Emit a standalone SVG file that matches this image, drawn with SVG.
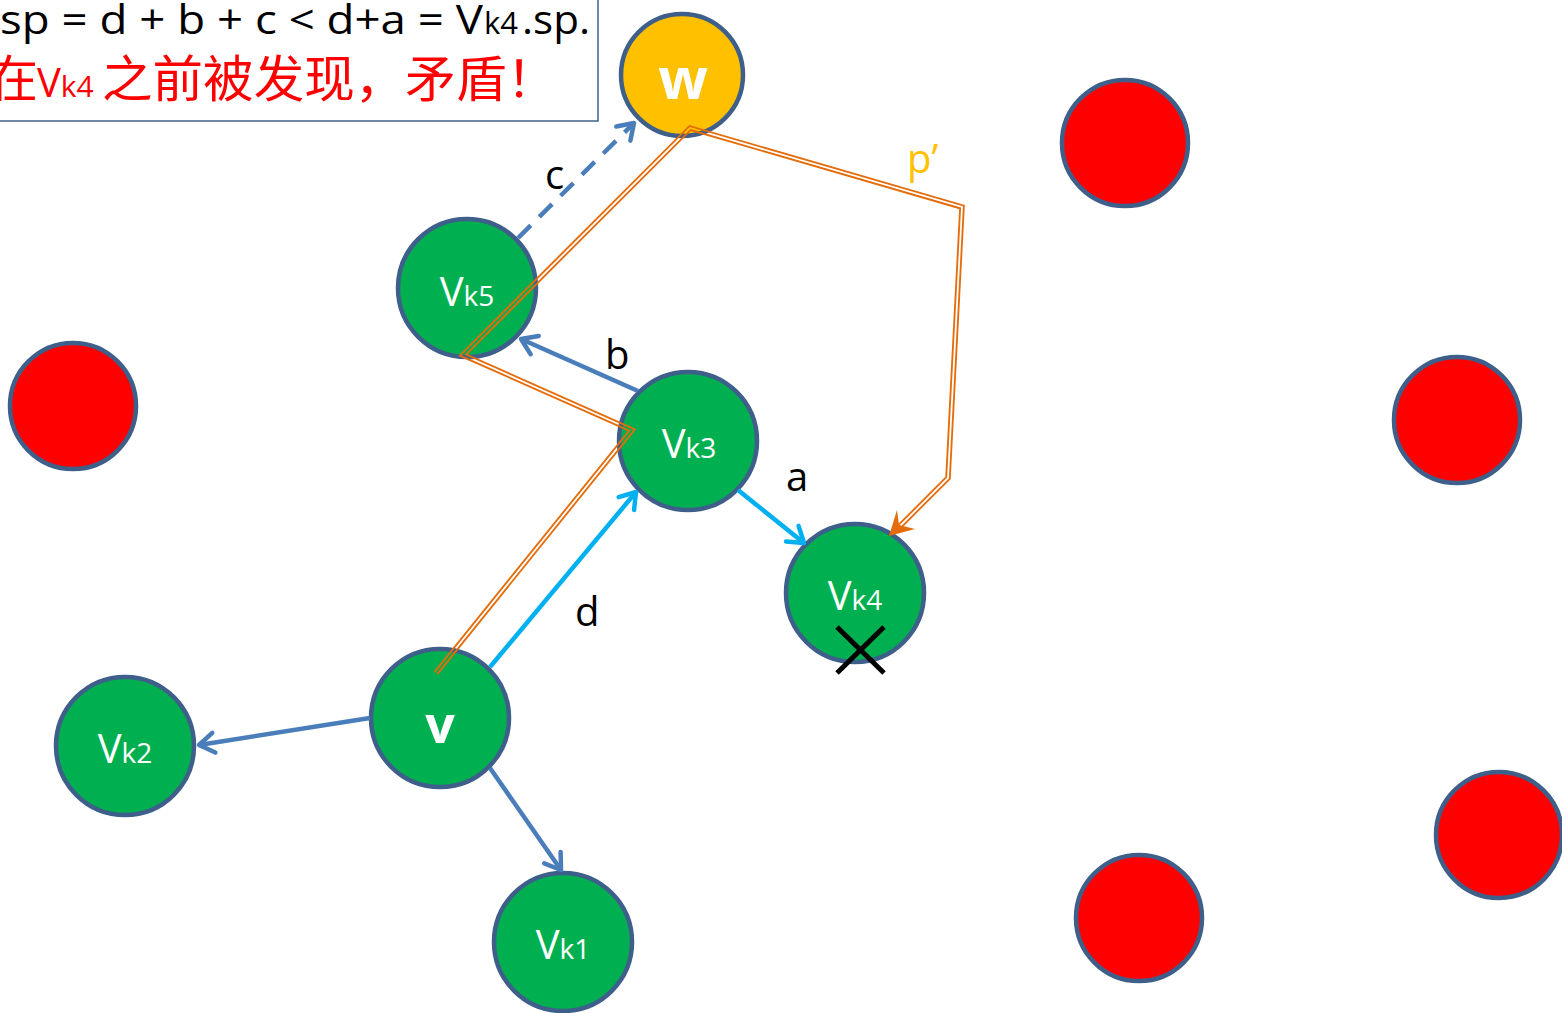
<svg xmlns="http://www.w3.org/2000/svg" width="1562" height="1013" viewBox="0 0 1562 1013">
<style>
.node{stroke:#3E5F8A;stroke-width:4.5}
.g{fill:#00B050}
.r{fill:#FF0000}
.y{fill:#FFC000}
.lbl{fill:#fff;font-family:"Open Sans","Liberation Sans",sans-serif;text-anchor:middle}
.big{font-size:40px}
.sub{font-size:28px}
.bold{font-weight:bold}
.blue{stroke:#4A7EBB;stroke-width:4.5;fill:none}
.cyan{stroke:#00B0F0;stroke-width:4.5;fill:none}
.el{font-family:"Open Sans","Liberation Sans",sans-serif;font-size:40px}
.cjk{font-family:"Noto Sans CJK SC",sans-serif;font-size:50px;fill:#FF0000}
</style>
<defs>
<marker id="ab" viewBox="0 0 20 20" refX="17" refY="10" markerWidth="20" markerHeight="20" markerUnits="userSpaceOnUse" orient="auto" overflow="visible">
<path d="M2,0 L17,10 L2,20" fill="none" stroke="#4A7EBB" stroke-width="4.5" stroke-linecap="round" stroke-linejoin="round"/>
</marker>
<marker id="ac" viewBox="0 0 20 20" refX="17" refY="10" markerWidth="20" markerHeight="20" markerUnits="userSpaceOnUse" orient="auto" overflow="visible">
<path d="M2,0 L17,10 L2,20" fill="none" stroke="#00B0F0" stroke-width="4.5" stroke-linecap="round" stroke-linejoin="round"/>
</marker>
<mask id="dbl" maskUnits="userSpaceOnUse" x="0" y="0" width="1562" height="1013">
<rect x="0" y="0" width="1562" height="1013" fill="#fff"/>
<path d="M436,673 L632,430 L463,355 L690,128 L962,207 L948,478 L900,526" fill="none" stroke="#000" stroke-width="1.8" stroke-linejoin="miter"/>
</mask>
</defs>

<g id="textbox">
<rect x="-3" y="-3" width="601" height="124" fill="#fff" stroke="#41608A" stroke-width="1.5"/>
<text class="el" y="34" fill="#000" font-size="43"><tspan x="0" textLength="483" lengthAdjust="spacingAndGlyphs">sp = d + b + c &lt; d+a = V</tspan><tspan x="484" font-size="31">k4</tspan><tspan x="522" textLength="68" lengthAdjust="spacingAndGlyphs">.sp.</tspan></text>
<text class="cjk" x="-12" y="97">在</text>
<text class="el" x="37" y="97" fill="#FF0000" font-size="42"><tspan>V</tspan><tspan font-size="30">k4</tspan></text>
<text class="cjk" x="102" y="97" textLength="455" lengthAdjust="spacingAndGlyphs">之前被发现，矛盾！</text>
</g>

<g id="red-nodes">
<circle id="r1" class="node r" cx="1125" cy="143" r="63"/>
<circle id="r2" class="node r" cx="73" cy="406" r="63"/>
<circle id="r3" class="node r" cx="1457" cy="420" r="63"/>
<circle id="r4" class="node r" cx="1499" cy="835" r="63"/>
<circle id="r5" class="node r" cx="1139" cy="918" r="63"/>
</g>

<g id="node-w"><circle class="node y" cx="682" cy="75" r="61"/><text class="lbl bold" x="683" y="99" font-size="58">w</text></g>
<g id="node-vk5"><circle class="node g" cx="467" cy="288" r="69"/><text class="lbl" x="467" y="306"><tspan class="big">V</tspan><tspan class="sub">k5</tspan></text></g>
<g id="node-vk3"><circle class="node g" cx="688" cy="441" r="69"/><text class="lbl" x="689" y="458"><tspan class="big">V</tspan><tspan class="sub">k3</tspan></text></g>
<g id="node-vk4"><circle class="node g" cx="855" cy="593" r="69"/><text class="lbl" x="855" y="610"><tspan class="big">V</tspan><tspan class="sub">k4</tspan></text></g>
<g id="node-v"><circle class="node g" cx="440" cy="718" r="69"/><text class="lbl bold" x="440" y="743" font-size="52">v</text></g>
<g id="node-vk2"><circle class="node g" cx="125" cy="746" r="69"/><text class="lbl" x="125" y="763"><tspan class="big">V</tspan><tspan class="sub">k2</tspan></text></g>
<g id="node-vk1"><circle class="node g" cx="563" cy="942" r="69"/><text class="lbl" x="563" y="959"><tspan class="big">V</tspan><tspan class="sub">k1</tspan></text></g>

<g id="connectors">
<line class="blue" x1="370" y1="718" x2="199" y2="745" marker-end="url(#ab)"/>
<line class="blue" x1="490" y1="768" x2="561" y2="870" marker-end="url(#ab)"/>
<line class="blue" x1="638" y1="391" x2="521" y2="339" marker-end="url(#ab)"/>
<line class="blue" x1="518" y1="238" x2="634" y2="123" stroke-dasharray="18,12" marker-end="url(#ab)"/>
<line class="cyan" x1="490" y1="667" x2="636" y2="492" marker-end="url(#ac)"/>
<line class="cyan" x1="738" y1="490" x2="804" y2="543" marker-end="url(#ac)"/>
<path d="M436,673 L632,430 L463,355 L690,128 L962,207 L948,478 L900,526" fill="none" stroke="#E46C0A" stroke-width="5.5" stroke-linejoin="miter" mask="url(#dbl)"/>
<path d="M889,536 L897,510 L899,525 L915,529 Z" fill="#E46C0A"/>
<g stroke="#000" stroke-width="5"><line x1="837" y1="627" x2="884" y2="673"/><line x1="884" y1="627" x2="837" y2="673"/></g>
</g>

<g id="labels">
<text class="el" x="545" y="189" fill="#000">c</text>
<text class="el" x="605" y="369" fill="#000">b</text>
<text class="el" x="786" y="491" fill="#000">a</text>
<text class="el" x="575" y="626" fill="#000">d</text>
<text class="el" x="907" y="173" fill="#FFC000">p’</text>
</g>
</svg>
